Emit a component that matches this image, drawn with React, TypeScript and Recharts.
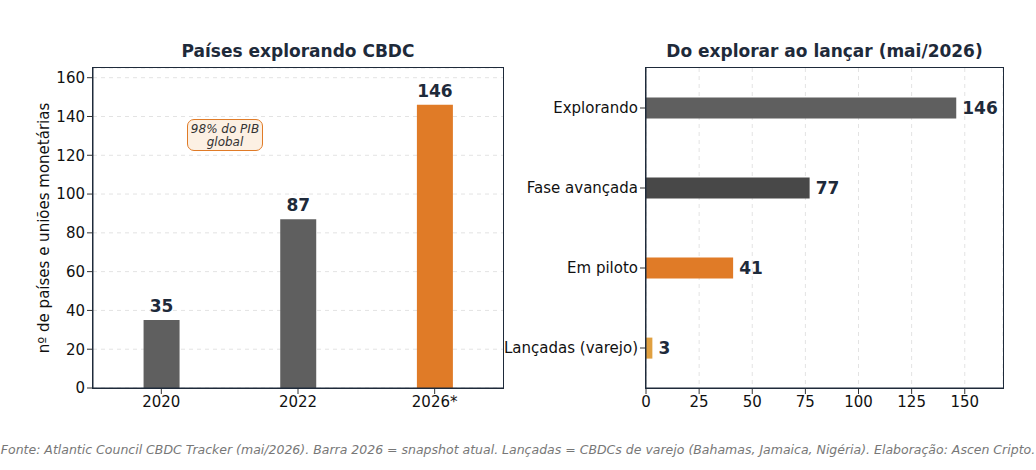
import React from "react";
import { BarChart, Bar, XAxis, YAxis, CartesianGrid, LabelList, Cell } from "recharts";

const years = ["2020", "2022", "2026*"];
const yearValues = [35, 87, 146];
const yearColors = ["#5f5f5f", "#5f5f5f", "#e07b27"];

const stages = ["Explorando", "Fase avançada", "Em piloto", "Lançadas (varejo)"];
const stageValues = [146, 77, 41, 3];
const stageColors = ["#5f5f5f", "#484848", "#e07b27", "#e0a040"];

const leftTicks = [0, 20, 40, 60, 80, 100, 120, 140, 160];
const rightTicks = [0, 25, 50, 75, 100, 125, 150];

const leftData = years.map((y, i) => ({ name: y, v: yearValues[i] }));
const rightData = stages.map((s, i) => ({ name: s, v: stageValues[i] }));

const FONT = "DejaVu Sans, sans-serif";
const INK = "#1e2a3a";
const tick = { fill: "#111", fontSize: 15, fontFamily: FONT };

const lbl = (p: any) => {
  const { x, y, width, value } = p;
  return <text x={x + width / 2} y={y - 8} textAnchor="middle" fontSize={17} fontWeight="bold" fill={INK} fontFamily={FONT}>{value}</text>;
};
const lblR = (p: any) => {
  const { x, y, width, height, value } = p;
  return <text x={x + width + 6} y={y + height / 2 + 6} textAnchor="start" fontSize={17} fontWeight="bold" fill={INK} fontFamily={FONT}>{value}</text>;
};

export default function App() {
  const abs = (s: any) => ({ position: "absolute" as const, ...s });
  return (
    <div style={{ position: "absolute", left: 0, top: 0, width: 1036, height: 470, background: "#fff", fontFamily: FONT }}>
      <div style={abs({ left: 93, width: 410, top: 41, textAlign: "center", fontSize: 17, fontWeight: "bold", color: INK })}>Países explorando CBDC</div>
      <div style={abs({ left: 646, width: 357, top: 41, textAlign: "center", fontSize: 17, fontWeight: "bold", color: INK })}>Do explorar ao lançar (mai/2026)</div>
      <div style={abs({ left: 0, top: 0 })}>
        <BarChart width={520} height={430} data={leftData} margin={{ top: 68, left: 43, right: 17, bottom: 12 }} barCategoryGap="37%">
          <CartesianGrid horizontal vertical={false} stroke="#e3e3e3" strokeDasharray="4 4" />
          <XAxis dataKey="name" tick={tick} height={30} stroke="#1e2a3a" tickLine={{ stroke: "#333" }} />
          <YAxis domain={[0, 165]} ticks={leftTicks} tick={tick} width={50} stroke="#1e2a3a" tickLine={{ stroke: "#333" }} />
          <Bar dataKey="v" isAnimationActive={false}>
            {leftData.map((d, i) => <Cell key={i} fill={yearColors[i]} />)}
            <LabelList dataKey="v" content={lbl} />
          </Bar>
        </BarChart>
      </div>
      <div style={abs({ left: 500, top: 0 })}>
        <BarChart width={520} height={430} data={rightData} layout="vertical" margin={{ top: 68, left: 16, right: 17, bottom: 12 }} barCategoryGap="37%">
          <CartesianGrid vertical horizontal={false} stroke="#e3e3e3" strokeDasharray="4 4" />
          <XAxis type="number" domain={[0, 168]} ticks={rightTicks} tick={tick} height={30} stroke="#1e2a3a" tickLine={{ stroke: "#333" }} />
          <YAxis type="category" dataKey="name" tick={tick} width={130} stroke="#1e2a3a" tickLine={{ stroke: "#333" }} />
          <Bar dataKey="v" isAnimationActive={false}>
            {rightData.map((d, i) => <Cell key={i} fill={stageColors[i]} />)}
            <LabelList dataKey="v" content={lblR} />
          </Bar>
        </BarChart>
      </div>
      <div style={abs({ left: 92, top: 67, width: 410, height: 320, border: "1.5px solid #1e2a3a", pointerEvents: "none" })} />
      <div style={abs({ left: 645, top: 67, width: 357, height: 320, border: "1.5px solid #1e2a3a", pointerEvents: "none" })} />
      <div style={abs({ left: 44, top: 228, fontSize: 15, color: "#111", whiteSpace: "nowrap", transform: "translate(-50%,-50%) rotate(-90deg)" })}>nº de países e uniões monetárias</div>
      <div style={abs({ left: 187, top: 119, width: 76, height: 32, border: "1.5px solid #e07b27", borderRadius: 7, background: "#fcf0e3", fontSize: 12, fontStyle: "italic", color: "#333", textAlign: "center", lineHeight: "13px", paddingTop: 3, boxSizing: "border-box" })}>98% do PIB<br />global</div>
      <div style={abs({ left: 0, width: 1036, top: 442, textAlign: "center", fontSize: 12.5, fontStyle: "italic", color: "#777" })}>Fonte: Atlantic Council CBDC Tracker (mai/2026). Barra 2026 = snapshot atual. Lançadas = CBDCs de varejo (Bahamas, Jamaica, Nigéria). Elaboração: Ascen Cripto.</div>
    </div>
  );
}
